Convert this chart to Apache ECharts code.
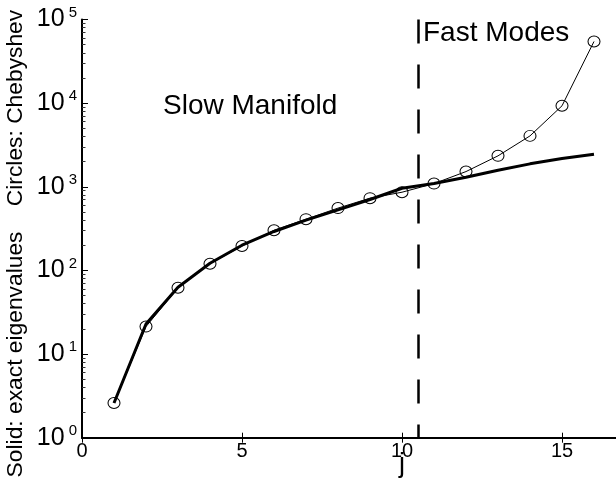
<!DOCTYPE html>
<html>
<head>
<meta charset="utf-8">
<script src="https://cdn.jsdelivr.net/npm/echarts@6/dist/echarts.min.js"></script>
<style>html,body{margin:0;padding:0;background:#fff}#c{width:616px;height:483px}</style>
</head>
<body>
<div id="c"></div>
<script>
// Data
var jValues = [1, 2, 3, 4, 5, 6, 7, 8, 9, 10, 11, 12, 13, 14, 15, 16];
var chebyshev = [2.6, 21.3, 62, 120, 196, 302, 410, 556, 731, 861, 1092, 1520, 2343, 4060, 9290, 54600];
var exact = [2.6, 22.9, 63, 122, 200, 292, 400, 530, 705, 960, 1095, 1300, 1580, 1880, 2180, 2450];
var xTicks = [0, 5, 10, 15, 20];
var yDecades = [1, 10, 100, 1000, 10000, 100000];
var yMinor = [2,3,4,5,6,7,8,9,20,30,40,50,60,70,80,90,200,300,400,500,600,700,800,900,
              2000,3000,4000,5000,6000,7000,8000,9000,20000,30000,40000,50000,60000,70000,80000,90000];
var divider = 10.5;

var FONT = "'Liberation Sans', Arial, Helvetica, sans-serif";
function pairs(xs, ys) { return xs.map(function (x, i) { return [x, ys[i]]; }); }
function lg(arr) { return arr.map(function (v) { return Math.log10(v); }); }

var chart = echarts.init(document.getElementById('c'), null, {renderer: 'canvas'});

chart.setOption({
  animation: false,
  textStyle: {fontFamily: FONT},
  // the plot extends past the right edge of the picture (x axis runs to 20)
  grid: {left: 82, right: -106, top: 19.5, bottom: 45.3, containLabel: false, outerBoundsMode: 'none'},
  xAxis: [{
    type: 'value', min: 0, max: 20, interval: 5,
    position: 'bottom',
    axisLine: {lineStyle: {color: '#000', width: 2}},
    axisTick: {inside: true, length: 5, lineStyle: {color: '#000', width: 1}, customValues: xTicks},
    axisLabel: {color: '#000', fontSize: 20, fontFamily: FONT, margin: 4, customValues: xTicks},
    splitLine: {show: false},
    name: 'j', nameLocation: 'middle', nameGap: 13, nameMoveOverlap: false,
    nameTextStyle: {color: '#000', fontSize: 27, fontFamily: FONT}
  }, {
    type: 'value', min: 0, max: 20, interval: 5,
    position: 'top',
    axisLine: {lineStyle: {color: '#000', width: 1.5}},
    axisTick: {inside: true, length: 5, lineStyle: {color: '#000', width: 1}, customValues: xTicks},
    axisLabel: {show: false},
    splitLine: {show: false}
  }],
  yAxis: [{
    type: 'log', logBase: 10, min: 1, max: 100000,
    position: 'left',
    axisLine: {lineStyle: {color: '#000', width: 2}},
    axisTick: {show: false},
    axisLabel: {
      customValues: yDecades,
      margin: 5,
      formatter: function (v) { return '{b|10}{s|' + Math.round(Math.log10(v)) + '}'; },
      rich: {
        b: {fontSize: 25, fontFamily: FONT, color: '#000'},
        s: {fontSize: 15, fontFamily: FONT, color: '#000', padding: [0, 0, 14, 4]}
      }
    },
    splitLine: {show: false},
    minorTick: {show: false},
    name: 'Solid: exact eigenvalues    Circles: Chebyshev',
    nameLocation: 'middle', nameGap: 55, nameRotate: 90, nameMoveOverlap: false,
    nameTextStyle: {color: '#000', fontSize: 22.8, fontFamily: FONT, padding: [0, 30, 0, 0]}
  }, {
    // helper axis in log10 space for decade ticks
    type: 'value', min: 0, max: 5,
    position: 'left', offset: 0,
    axisLine: {show: false},
    axisTick: {show: true, inside: true, length: 6, lineStyle: {color: '#000', width: 1}, customValues: lg(yDecades)},
    axisLabel: {show: false},
    splitLine: {show: false}
  }, {
    // helper axis in log10 space for minor ticks
    type: 'value', min: 0, max: 5,
    position: 'left', offset: 0,
    axisLine: {show: false},
    axisTick: {show: true, inside: true, length: 3.5, lineStyle: {color: '#333', width: 1}, customValues: lg(yMinor)},
    axisLabel: {show: false},
    splitLine: {show: false}
  }],
  series: [{
    name: 'exact', type: 'line', data: pairs(jValues, exact),
    xAxisIndex: 0, yAxisIndex: 0,
    showSymbol: false, symbol: 'none',
    lineStyle: {color: '#000', width: 3},
    z: 3,
    markLine: {
      silent: true, symbol: 'none', label: {show: false},
      lineStyle: {color: '#000', width: 2.5, type: [24, 21], dashOffset: 10.8},
      data: [{xAxis: divider}]
    }
  }, {
    name: 'chebyshev', type: 'line', data: pairs(jValues, chebyshev),
    xAxisIndex: 0, yAxisIndex: 0,
    symbol: 'circle', symbolSize: [12, 11], showSymbol: true,
    itemStyle: {color: 'rgba(0,0,0,0)', borderColor: '#000', borderWidth: 1},
    lineStyle: {color: '#000', width: 1},
    z: 4
  }],
  graphic: [{
    type: 'text', left: 163, top: 92,
    style: {text: 'Slow Manifold', font: '28px ' + FONT, fill: '#000'}
  }, {
    type: 'text', left: 423, top: 19,
    style: {text: 'Fast Modes', font: '28px ' + FONT, fill: '#000'}
  }]
});
</script>
</body>
</html>
